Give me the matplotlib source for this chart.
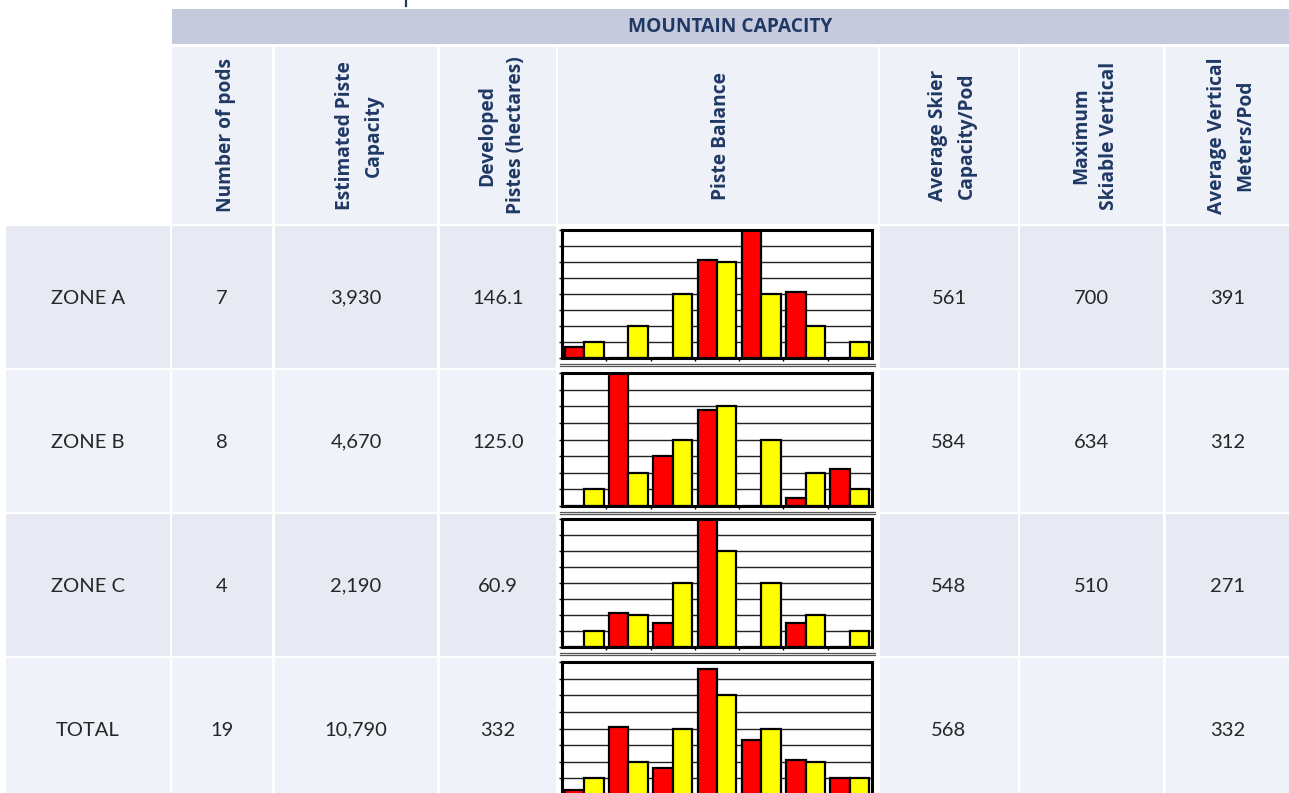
import numpy as np
import matplotlib
matplotlib.use("Agg")
import matplotlib.pyplot as plt
from matplotlib.patches import Rectangle

# data
zones = ["ZONE A", "ZONE B", "ZONE C", "TOTAL"]
pods = [7, 8, 4, 19]
piste_capacity = [3930, 4670, 2190, 10790]
developed_ha = ["146.1", "125.0", "60.9", "332"]
avg_skier_pod = [561, 584, 548, 568]
max_vertical = ["700", "634", "510", ""]
avg_vertical_pod = [391, 312, 271, 332]

headers = ["Number of pods", "Estimated Piste\nCapacity", "Developed\nPistes (hectares)",
           "Piste Balance", "Average Skier\nCapacity/Pod", "Maximum\nSkiable Vertical",
           "Average Vertical\nMeters/Pod"]
band_title = "MOUNTAIN CAPACITY"

# piste balance: actual (red) vs ideal (yellow), 7 difficulty classes
actual_a = [0.7, 0, 0, 6.1, 9, 4.15, 0]
actual_b = [0, 9, 3.0, 5.8, 0, 0.5, 2.25]
actual_c = [0, 2.15, 1.5, 9, 0, 1.5, 0]
actual_total = [0.3, 4.1, 1.6, 7.6, 3.3, 2.1, 1.0]
ideal = [1, 2, 4, 6, 4, 2, 1]
actual_all = [actual_a, actual_b, actual_c, actual_total]

# layout in pixels
W, H = 1289, 793
cols = [(6, 170), (172, 272), (275, 437), (440, 556), (558, 878),
        (880, 1018), (1020, 1163), (1166, 1289)]
rows = [(226, 368), (370, 512), (514, 656), (658, 800)]
chart_y = [(230, 358), (373, 506), (519, 647), (662, 795)]
chart_x = (562, 872)

navy = "#1f3864"
txt = "#262626"
band_col = "#c5cadc"
head_col = "#eef1f7"
row_cols = ["#e7eaf2", "#eff2f8", "#e7eaf2", "#eff2f8"]

fig = plt.figure(figsize=(W / 100, H / 100), dpi=100)
ax = fig.add_axes([0, 0, 1, 1])
ax.set_xlim(0, W)
ax.set_ylim(H, 0)
ax.axis("off")

# small mark at top
ax.plot([406, 406], [0, 6], color=navy, lw=1.6)

# title band
ax.add_patch(Rectangle((172, 9), W - 172, 35, color=band_col, lw=0))
ax.text((172 + W) / 2, 27, band_title, ha="center", va="center",
        color=navy, fontsize=13.8, fontweight="bold", family="Open Sans")

# header row
for (x0, x1), h in zip(cols[1:], headers):
    ax.add_patch(Rectangle((x0, 47), x1 - x0, 177, color=head_col, lw=0))
    ax.text((x0 + x1) / 2 + 3.5, 135.5, h, rotation=90, ha="center", va="center",
            multialignment="center", color=navy, fontsize=13.8,
            fontweight="bold", family="Open Sans", linespacing=1.55)

# data rows
for i, (y0, y1) in enumerate(rows):
    vals = [zones[i], str(pods[i]), f"{piste_capacity[i]:,}", developed_ha[i],
            None, str(avg_skier_pod[i]), max_vertical[i], str(avg_vertical_pod[i])]
    for (x0, x1), v in zip(cols, vals):
        if v is None:
            continue
        ax.add_patch(Rectangle((x0, y0), x1 - x0, y1 - y0, color=row_cols[i], lw=0))
        ax.text((x0 + x1) / 2, (y0 + y1) / 2 + 1, v, ha="center", va="center",
                color=txt, fontsize=14.5, family="Lato")

# piste balance mini charts
x = np.arange(len(ideal))
for (y0, y1), actual in zip(chart_y, actual_all):
    cx = fig.add_axes([chart_x[0] / W, 1 - y1 / H,
                       (chart_x[1] - chart_x[0]) / W, (y1 - y0) / H])
    cx.bar(x - 0.22, actual, 0.44, color="#ff0000", edgecolor="black", lw=1.6)
    cx.bar(x + 0.22, ideal, 0.44, color="#ffff00", edgecolor="black", lw=1.6)
    cx.set_xlim(-0.5, 6.5)
    cx.set_ylim(0, 8)
    cx.set_yticks(range(9))
    cx.set_xticks(x[:-1] + 0.5)
    cx.tick_params(direction="out", length=2, width=1, labelleft=False,
                   labelbottom=False)
    cx.set_axisbelow(True)
    cx.grid(axis="y", color="#222222", lw=1)
    for s in cx.spines.values():
        s.set_linewidth(2.2)
    # double rule under each chart
    ax.plot([560, 875], [y1 + 6, y1 + 6], color="#555555", lw=0.9)
    ax.plot([560, 875], [y1 + 8, y1 + 8], color="#555555", lw=0.9)

fig.savefig("out.png", dpi=100)
